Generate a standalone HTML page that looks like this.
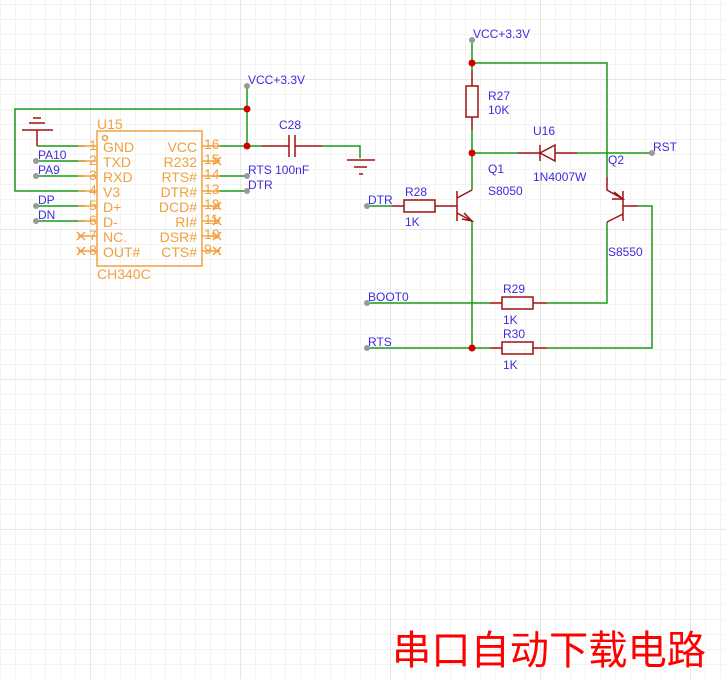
<!DOCTYPE html>
<html><head><meta charset="utf-8"><style>
html,body{margin:0;padding:0;background:#fff;}
svg{display:block;}
.l{font-family:"Liberation Sans",sans-serif;font-size:12px;fill:#3d2be0;}
.o{font-family:"Liberation Sans",sans-serif;font-size:14px;fill:#f0a040;}
</style></head><body>
<svg width="726" height="679" viewBox="0 0 726 679" xmlns="http://www.w3.org/2000/svg">
<defs>
<pattern id="g" width="15" height="15" patternUnits="userSpaceOnUse" x="0" y="4">
<path d="M0 0.5H15M0.5 0V15" stroke="#f3f3ef" stroke-width="1" fill="none"/>
</pattern>
</defs>
<rect width="726" height="679" fill="url(#g)"/>
<g stroke="#e6e6e6" stroke-width="1">
<line x1="90.5" y1="0" x2="90.5" y2="679"/><line x1="240.5" y1="0" x2="240.5" y2="679"/><line x1="390.5" y1="0" x2="390.5" y2="679"/><line x1="540.5" y1="0" x2="540.5" y2="679"/><line x1="690.5" y1="0" x2="690.5" y2="679"/>
<line x1="0" y1="79.5" x2="726" y2="79.5"/><line x1="0" y1="229.5" x2="726" y2="229.5"/><line x1="0" y1="379.5" x2="726" y2="379.5"/><line x1="0" y1="529.5" x2="726" y2="529.5"/>
</g>

<g stroke="#1a9a1a" stroke-width="1.5" fill="none">
<path d="M247 86V146M247 109H15V191H85"/>
<path d="M37 146H85M36 161H85M36 176H85M36 206H85M36 221H85"/>
<path d="M217 146H262M322 146H360V158M217 176H247M217 191H247"/>
<path d="M472 40V70M472 63H607V177M472 130V190M472 221V348"/>
<path d="M472 153H518M577 153H652"/>
<path d="M367 206H392M367 303H490M547 303H607V222M367 348H490M547 348H652V206H638"/>
</g>

<g stroke="#a01010" stroke-width="1.5" fill="none">
<path d="M37 130V146M29 123H45M33 118H41M22 130H53"/>
<path d="M262 146H289M295 146H322M289 135V157M295 135V157"/>
<path d="M347 160H375M354 167H367M359 174H363"/>
<rect x="466" y="86" width="12" height="31"/>
<path d="M472 70V86M472 117V130"/>
<path d="M518 153H540M555 153H577M540 145V161"/>
<path d="M555 145L540 153L555 161Z"/>
<rect x="404" y="200" width="31" height="12"/>
<path d="M392 206H404M435 206H457M457 191V221M457 198L472 190M457 213L472 221"/>
<path d="M464 213L472 221L462 219" />
<rect x="502" y="297" width="31" height="12"/>
<path d="M490 303H502M533 303H547"/>
<rect x="502" y="342" width="31" height="12"/>
<path d="M490 348H502M533 348H547"/>
<path d="M623 191V221M623 206H638M607 177V190L623 199M607 222L623 214"/>
<path d="M614 192L623 199L612 199"/>
</g>

<g stroke="#f0a040" stroke-width="1.5" fill="none">
<rect x="97" y="131" width="105" height="135"/>
<circle cx="105" cy="138" r="2.5"/>
<path d="M78 146H97M78 161H97M78 176H97M78 191H97M78 206H97M78 221H97M78 236H97M78 251H97"/>
<path d="M202 146H220M202 161H220M202 176H220M202 191H220M202 206H220M202 221H220M202 236H220M202 251H220"/>
<path d="M77 232L85 240M85 232L77 240M77 247L85 255M85 247L77 255"/>
<path d="M213 157L221 165M221 157L213 165M213 202L221 210M221 202L213 210M213 217L221 225M221 217L213 225M213 232L221 240M221 232L213 240M213 247L221 255M221 247L213 255"/>
</g>
<g class="o">
<text x="97" y="129">U15</text>
<text x="97" y="279">CH340C</text>
<text x="89" y="150">1</text><text x="89" y="165">2</text><text x="89" y="180">3</text><text x="89" y="195">4</text><text x="89" y="210">5</text><text x="89" y="225">6</text><text x="89" y="240">7</text><text x="89" y="255">8</text>
<text x="103" y="152">GND</text><text x="103" y="167">TXD</text><text x="103" y="182">RXD</text><text x="103" y="197">V3</text><text x="103" y="212">D+</text><text x="103" y="227">D-</text><text x="103" y="242">NC.</text><text x="103" y="257">OUT#</text>
<g text-anchor="end">
<text x="197" y="152">VCC</text><text x="197" y="167">R232</text><text x="197" y="182">RTS#</text><text x="197" y="197">DTR#</text><text x="197" y="212">DCD#</text><text x="197" y="227">RI#</text><text x="197" y="242">DSR#</text><text x="197" y="257">CTS#</text>
</g>
<text x="204" y="149">16</text><text x="204" y="164">15</text><text x="204" y="179">14</text><text x="204" y="194">13</text><text x="204" y="209">12</text><text x="204" y="224">11</text><text x="204" y="239">10</text><text x="204" y="254">9</text>
</g>

<g fill="#d00000">
<circle cx="247" cy="109" r="3.5"/><circle cx="247" cy="146" r="3.5"/>
<circle cx="472" cy="63" r="3.5"/><circle cx="472" cy="153" r="3.5"/><circle cx="472" cy="348" r="3.5"/>
</g>
<g fill="#999">
<circle cx="247" cy="86" r="3"/><circle cx="472" cy="40" r="3"/>
<circle cx="36" cy="161" r="3"/><circle cx="36" cy="176" r="3"/><circle cx="36" cy="206" r="3"/><circle cx="36" cy="221" r="3"/>
<circle cx="247" cy="176" r="3"/><circle cx="247" cy="191" r="3"/>
<circle cx="652" cy="153" r="3"/><circle cx="367" cy="206" r="3"/><circle cx="367" cy="303" r="3"/><circle cx="367" cy="348" r="3"/>
</g>

<g class="l">
<text x="248" y="84">VCC+3.3V</text>
<text x="473" y="38">VCC+3.3V</text>
<text x="38" y="159">PA10</text><text x="38" y="174">PA9</text><text x="38" y="204">DP</text><text x="38" y="219">DN</text>
<text x="279" y="129">C28</text>
<text x="248" y="174">RTS 100nF</text>
<text x="248" y="189">DTR</text>
<text x="488" y="100">R27</text><text x="488" y="114">10K</text>
<text x="533" y="135">U16</text><text x="533" y="181">1N4007W</text>
<text x="488" y="173">Q1</text><text x="488" y="195">S8050</text>
<text x="608" y="164">Q2</text><text x="608" y="256">S8550</text>
<text x="653" y="151">RST</text>
<text x="405" y="196">R28</text><text x="405" y="226">1K</text>
<text x="368" y="204">DTR</text>
<text x="368" y="301">BOOT0</text>
<text x="368" y="346">RTS</text>
<text x="503" y="293">R29</text><text x="503" y="324">1K</text>
<text x="503" y="338">R30</text><text x="503" y="369">1K</text>
</g>

<text x="392" y="664" textLength="314" lengthAdjust="spacingAndGlyphs" style="font-family:'Liberation Sans','Noto Sans CJK SC',sans-serif;font-size:40px;fill:#ff0000;">串口自动下载电路</text>
</svg>
</body></html>
